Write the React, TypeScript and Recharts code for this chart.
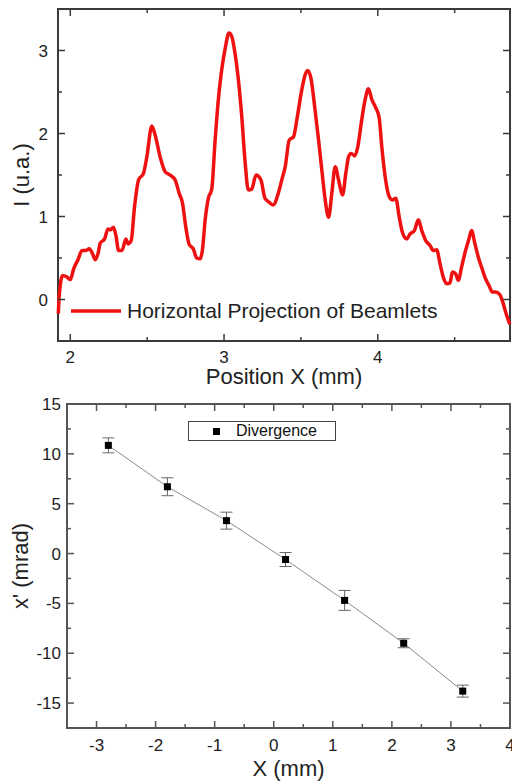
import {
  LineChart,
  Line,
  ComposedChart,
  Scatter,
  ErrorBar,
  XAxis,
  YAxis,
  ReferenceArea,
  Legend,
} from "recharts";

const FONT = "'Liberation Sans', Arial, Helvetica, sans-serif";
const RED = "#ee1111";

// top panel: horizontal projection of beamlets
const posX = [
  1.922, 1.929, 1.95, 1.978, 2.0, 2.022, 2.05, 2.076, 2.1, 2.123, 2.145, 2.162, 2.18, 2.195, 2.223,
  2.245, 2.26, 2.28, 2.297, 2.314, 2.336, 2.362, 2.375, 2.396, 2.418, 2.444, 2.476, 2.498, 2.53,
  2.552, 2.584, 2.617, 2.649, 2.682, 2.708, 2.73, 2.751, 2.773, 2.8, 2.822, 2.844, 2.859, 2.877,
  2.898, 2.92, 2.942, 2.963, 2.985, 3.006, 3.032, 3.05, 3.071, 3.093, 3.115, 3.136, 3.158, 3.18,
  3.208, 3.24, 3.266, 3.288, 3.32, 3.353, 3.377, 3.398, 3.424, 3.452, 3.474, 3.502, 3.528, 3.545,
  3.567, 3.589, 3.615, 3.636, 3.658, 3.68, 3.701, 3.723, 3.745, 3.771, 3.792, 3.81, 3.827, 3.849,
  3.87, 3.896, 3.918, 3.939, 3.961, 3.987, 4.009, 4.026, 4.048, 4.074, 4.095, 4.117, 4.139, 4.16,
  4.188, 4.21, 4.238, 4.264, 4.286, 4.312, 4.34, 4.361, 4.383, 4.405, 4.426, 4.448, 4.47, 4.485,
  4.506, 4.524, 4.545, 4.571, 4.593, 4.61, 4.632, 4.654, 4.675, 4.701, 4.723, 4.745, 4.766, 4.794,
  4.816, 4.838, 4.859,
];
const intensity = [
  -0.17, 0.07, 0.29, 0.27, 0.24, 0.37, 0.48, 0.59, 0.59, 0.61, 0.55, 0.48, 0.55, 0.68, 0.73,
  0.85, 0.84, 0.87, 0.77, 0.59, 0.59, 0.73, 0.67, 0.71, 1.12, 1.44, 1.52, 1.72, 2.09,
  1.98, 1.72, 1.54, 1.5, 1.44, 1.28, 1.16, 0.875, 0.665, 0.61, 0.5, 0.49, 0.59, 0.955,
  1.22, 1.33, 1.92, 2.41, 2.77, 3.01, 3.21, 3.17, 2.97, 2.65, 2.21, 1.68, 1.32, 1.33,
  1.5, 1.44, 1.22, 1.18, 1.14, 1.28, 1.45, 1.6, 1.92, 1.96, 2.17, 2.49, 2.71, 2.76,
  2.65, 2.33, 1.92, 1.56, 1.2, 0.99, 1.28, 1.6, 1.44, 1.26, 1.52, 1.72, 1.76, 1.73,
  1.84, 2.17, 2.41, 2.54, 2.41, 2.31, 2.19, 1.84, 1.48, 1.24, 1.2, 1.22, 1.0, 0.81,
  0.73, 0.79, 0.83, 0.96, 0.83, 0.71, 0.65, 0.59, 0.6, 0.43, 0.27, 0.19, 0.2, 0.33,
  0.31, 0.23, 0.39, 0.59, 0.73, 0.83, 0.67, 0.51, 0.39, 0.25, 0.17, 0.09, 0.09, 0.06,
  -0.05, -0.19, -0.3,
];
const projTicksX = [2, 2.5, 3, 3.5, 4, 4.5];
const projTicksY = [0, 0.5, 1, 1.5, 2, 2.5, 3];

// bottom panel: divergence vs position
const beamX = [-2.8, -1.8, -0.8, 0.2, 1.2, 2.2, 3.2];
const divergence = [10.85, 6.7, 3.3, -0.6, -4.7, -9.0, -13.8];
const divErr = [0.75, 0.9, 0.85, 0.7, 1.0, 0.45, 0.6];
const divTicksX = [-3, -2.5, -2, -1.5, -1, -0.5, 0, 0.5, 1, 1.5, 2, 2.5, 3, 3.5, 4];
const divTicksY = [-15, -12.5, -10, -7.5, -5, -2.5, 0, 2.5, 5, 7.5, 10, 12.5, 15];

const projData = posX.map((x, i) => ({ x, y: intensity[i] }));
const divData = beamX.map((x, i) => ({ x, y: divergence[i], err: divErr[i] }));

function xTick(top: number, major: (v: number) => boolean, labelDy: number, color: string) {
  return (props: any) => {
    const { x, y, payload } = props;
    const isMajor = major(payload.value);
    const len = isMajor ? 7 : 4;
    return (
      <g>
        <line x1={x} y1={y} x2={x} y2={y - len} stroke={color} strokeWidth={1.5} />
        <line x1={x} y1={top} x2={x} y2={top + len} stroke={color} strokeWidth={1.5} />
        {isMajor && (
          <text x={x} y={y + labelDy} textAnchor="middle" fontSize={17} fontFamily={FONT} fill="#222">
            {payload.value}
          </text>
        )}
      </g>
    );
  };
}

function yTick(right: number, major: (v: number) => boolean, labelDx: number, color: string) {
  return (props: any) => {
    const { x, y, payload } = props;
    const isMajor = major(payload.value);
    const len = isMajor ? 7 : 4;
    return (
      <g>
        <line x1={x} y1={y} x2={x + len} y2={y} stroke={color} strokeWidth={1.5} />
        <line x1={right} y1={y} x2={right - len} y2={y} stroke={color} strokeWidth={1.5} />
        {isMajor && (
          <text x={x - labelDx} y={y + 6} textAnchor="end" fontSize={17} fontFamily={FONT} fill="#222">
            {payload.value}
          </text>
        )}
      </g>
    );
  };
}

function ProjLegend({ payload }: any) {
  return (
    <div>
      {(payload || []).map((p: any) => (
        <div key={p.value} style={{ display: "flex", alignItems: "center" }}>
          <svg width={52} height={8}>
            <line x1={1} y1={4} x2={51} y2={4} stroke={p.color} strokeWidth={3.5} />
          </svg>
          <span style={{ marginLeft: 5, fontSize: 21, fontFamily: FONT, color: "#222", lineHeight: "26px" }}>
            {p.value}
          </span>
        </div>
      ))}
    </div>
  );
}

function DivLegend({ payload }: any) {
  const items = (payload || []).filter((p: any) => p.type !== "none");
  return (
    <div
      style={{
        width: 146,
        height: 18,
        border: "1px solid #444",
        display: "flex",
        alignItems: "center",
        boxSizing: "content-box",
      }}
    >
      {items.map((p: any) => (
        <div key={p.value} style={{ display: "flex", alignItems: "center" }}>
          <div style={{ width: 7, height: 7, background: "#000", marginLeft: 24 }} />
          <span style={{ marginLeft: 16, fontSize: 16, fontFamily: FONT, color: "#111" }}>{p.value}</span>
        </div>
      ))}
    </div>
  );
}

function SquareDot(props: any) {
  const { cx, cy } = props;
  return <rect x={cx - 3.5} y={cy - 3.5} width={7} height={7} fill="#000" />;
}

const axisTitle = { fontSize: 22, fontFamily: FONT, fill: "#222" };

export default function App() {
  const topAxis = "#3a3a3a";
  const botAxis = "#555";
  return (
    <div style={{ position: "absolute", left: 0, top: 0, width: 512, height: 781, background: "#fff" }}>
      <LineChart width={512} height={390} data={projData} margin={{ top: 9, right: 2, left: 0, bottom: 0 }}>
        <XAxis
          dataKey="x"
          type="number"
          domain={[1.92, 4.86]}
          ticks={projTicksX}
          interval={0}
          axisLine={false}
          tickLine={false}
          tickSize={0}
          tickMargin={0}
          height={49}
          tick={xTick(9, (v) => Number.isInteger(v), 22, topAxis)}
          label={{ value: "Position X (mm)", position: "insideBottom", offset: 6, style: axisTitle }}
        />
        <YAxis
          type="number"
          domain={[-0.5, 3.5]}
          ticks={projTicksY}
          interval={0}
          axisLine={false}
          tickLine={false}
          tickSize={0}
          tickMargin={0}
          width={58}
          tick={yTick(510, (v) => Number.isInteger(v), 10, topAxis)}
          label={{
            value: "I (u.a.)",
            angle: -90,
            position: "insideLeft",
            offset: 21,
            style: { ...axisTitle, textAnchor: "middle" },
          }}
        />
        <ReferenceArea x1={1.92} x2={4.86} y1={-0.5} y2={3.5} fill="none" stroke={topAxis} strokeWidth={2} />
        <Line
          type="monotone"
          dataKey="y"
          name="Horizontal Projection of Beamlets"
          stroke={RED}
          strokeWidth={3.5}
          strokeLinejoin="round"
          dot={false}
          isAnimationActive={false}
        />
        <Legend
          layout="horizontal"
          verticalAlign="middle"
          align="center"
          wrapperStyle={{ left: 70, top: 298, width: 420, height: 26 }}
          content={<ProjLegend />}
        />
      </LineChart>
      <ComposedChart width={512} height={391} data={divData} margin={{ top: 14, right: 2, left: 0, bottom: 0 }}>
        <XAxis
          dataKey="x"
          type="number"
          domain={[-3.5, 4]}
          ticks={divTicksX}
          interval={0}
          axisLine={false}
          tickLine={false}
          tickSize={0}
          tickMargin={0}
          height={53}
          tick={xTick(14, (v) => Number.isInteger(v), 23, botAxis)}
          label={{ value: "X (mm)", position: "insideBottom", offset: 5, style: axisTitle }}
        />
        <YAxis
          type="number"
          domain={[-17.5, 15]}
          ticks={divTicksY}
          interval={0}
          axisLine={false}
          tickLine={false}
          tickSize={0}
          tickMargin={0}
          width={67}
          tick={yTick(510, (v) => v % 5 === 0, 6, botAxis)}
          label={{
            value: "x' (mrad)",
            angle: -90,
            position: "insideLeft",
            offset: 20,
            style: { ...axisTitle, textAnchor: "middle" },
          }}
        />
        <ReferenceArea x1={-3.5} x2={4} y1={-17.5} y2={15} fill="none" stroke={botAxis} strokeWidth={2} />
        <Line
          type="linear"
          dataKey="y"
          stroke="#8a8a8a"
          strokeWidth={1}
          dot={false}
          legendType="none"
          isAnimationActive={false}
        />
        <Scatter dataKey="y" name="Divergence" fill="#000" shape={<SquareDot />} isAnimationActive={false}>
          <ErrorBar dataKey="err" direction="y" width={6} stroke="#666" strokeWidth={1} />
        </Scatter>
        <Legend
          layout="horizontal"
          verticalAlign="middle"
          align="center"
          wrapperStyle={{ left: 188, top: 31, width: 148, height: 20 }}
          content={<DivLegend />}
        />
      </ComposedChart>
    </div>
  );
}
